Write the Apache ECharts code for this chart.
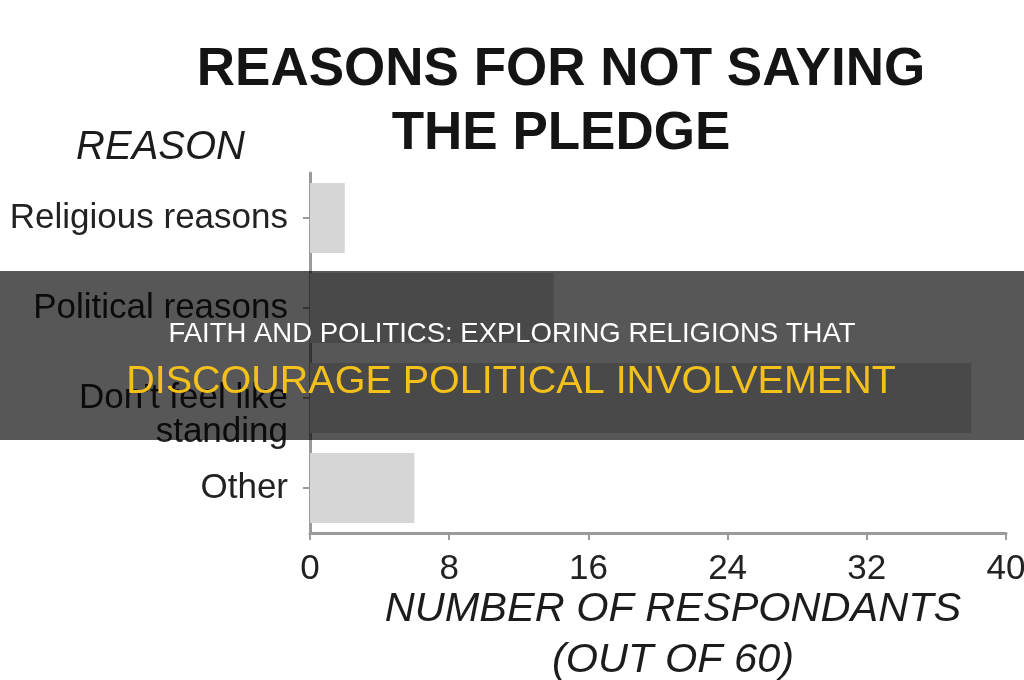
<!DOCTYPE html>
<html>
<head>
<meta charset="utf-8">
<title>Reasons for not saying the pledge</title>
<script src="https://cdn.jsdelivr.net/npm/echarts@6/dist/echarts.min.js"></script>
<style>
  html, body { margin: 0; padding: 0; background: #fff; }
  #chart { width: 1024px; height: 680px; }
</style>
</head>
<body>
<div id="chart"></div>
<script>
// data
const reasons = ["Religious reasons", "Political reasons", "Don't feel like\nstanding", "Other"];
const respondents = [2, 14, 38, 6];
const xTicks = [0, 8, 16, 24, 32, 40];

const titleLines = ["REASONS FOR NOT SAYING", "THE PLEDGE"];
const bannerTop = "FAITH AND POLITICS: EXPLORING RELIGIONS THAT";
const bannerBottom = "DISCOURAGE POLITICAL INVOLVEMENT";

const chartFont = "Liberation Sans, Arial, Helvetica, sans-serif";

const myChart = echarts.init(document.getElementById("chart"), null, { renderer: "canvas" });

myChart.setOption({
  animation: false,
  backgroundColor: "#ffffff",
  title: {
    text: titleLines.join("\n"),
    left: 556,
    top: 33,
    textAlign: "center",
    textStyle: {
      fontFamily: chartFont,
      fontWeight: "bold",
      fontSize: 53,
      lineHeight: 64,
      color: "#141414",
    },
  },
  grid: {
    left: 310,
    right: 18,
    top: 173,
    bottom: 147,
    containLabel: false,
    outerBoundsMode: "none",
  },
  xAxis: {
    type: "value",
    min: xTicks[0],
    max: xTicks[xTicks.length - 1],
    interval: xTicks[1] - xTicks[0],
    name: "NUMBER OF RESPONDANTS\n(OUT OF 60)",
    nameLocation: "middle",
    nameGap: 51,
    nameMoveOverlap: false,
    nameTextStyle: {
      fontFamily: chartFont,
      fontStyle: "italic",
      fontSize: 41.5,
      lineHeight: 51,
      color: "#1c1c1c",
      verticalAlign: "top",
      padding: [0, 0, 0, 30],
    },
    axisLine: { show: true, lineStyle: { color: "#9a9a9a", width: 3 } },
    axisTick: { show: true, length: 7, lineStyle: { color: "#9a9a9a", width: 2 } },
    axisLabel: {
      fontFamily: chartFont,
      fontSize: 35,
      color: "#222222",
      margin: 19,
    },
    splitLine: { show: false },
  },
  yAxis: {
    type: "category",
    inverse: true,
    data: reasons,
    name: "REASON",
    nameLocation: "start",
    nameGap: 25,
    nameTextStyle: {
      fontFamily: chartFont,
      fontStyle: "italic",
      fontSize: 40,
      color: "#1c1c1c",
      align: "right",
      verticalAlign: "middle",
      padding: [0, 65, 0, 0],
    },
    axisLine: { show: true, lineStyle: { color: "#9a9a9a", width: 3 } },
    axisTick: { show: true, alignWithLabel: true, length: 7, lineStyle: { color: "#9a9a9a", width: 2 } },
    axisLabel: {
      fontFamily: chartFont,
      fontSize: 35,
      lineHeight: 34,
      color: "#222222",
      margin: 22,
      // the two-line label sits a little below its tick in the original
      formatter: (value) => (value.indexOf("\n") >= 0 ? "\n" + value : value),
    },
    splitLine: { show: false },
  },
  series: [
    {
      name: "Respondents",
      type: "bar",
      data: respondents,
      barWidth: 70,
      itemStyle: { color: "#d6d6d6" },
    },
  ],
  graphic: [
    {
      type: "rect",
      z: 100,
      shape: { x: 0, y: 271, width: 1024, height: 169 },
      style: { fill: "rgba(0,0,0,0.66)" },
    },
    {
      type: "text",
      z: 101,
      x: 512,
      y: 334,
      style: {
        text: bannerTop,
        fill: "#ffffff",
        font: "27.5px " + chartFont,
        textAlign: "center",
        textVerticalAlign: "middle",
      },
    },
    {
      type: "text",
      z: 101,
      x: 511,
      y: 382,
      style: {
        text: bannerBottom,
        fill: "#f4c01c",
        font: "39.5px " + chartFont,
        textAlign: "center",
        textVerticalAlign: "middle",
      },
    },
  ],
});
</script>
</body>
</html>
